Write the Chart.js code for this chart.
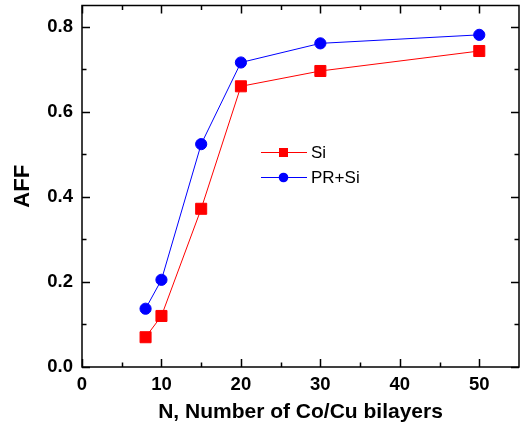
<!DOCTYPE html>
<html><head><meta charset="utf-8">
<script src="https://cdn.jsdelivr.net/npm/chart.js@4"></script>
<style>html,body{margin:0;padding:0;background:#fff}#wrap{width:531px;height:426px}</style>
</head><body><div id="wrap"><canvas id="c" width="531" height="426"></canvas></div>
<script>
const nValues = [8, 10, 15, 20, 30, 50];
const siValues = [0.070, 0.120, 0.372, 0.660, 0.696, 0.743];
const prSiValues = [0.137, 0.205, 0.524, 0.716, 0.761, 0.781];
const seriesLabels = ['Si', 'PR+Si'];
const xTicks = [0, 10, 20, 30, 40, 50];
const xMinor = [5, 15, 25, 35, 45];
const yTicks = [0.0, 0.2, 0.4, 0.6, 0.8];
const yMinor = [0.1, 0.3, 0.5, 0.7];

const FONT = 'Liberation Sans, Arial, sans-serif';

const tickPlugin = {
  id: 'tickPlugin',
  afterDraw(chart) {
    const ctx = chart.ctx, a = chart.chartArea;
    const xs = chart.scales.x, ys = chart.scales.y;
    ctx.save();
    ctx.strokeStyle = '#000';
    ctx.lineWidth = 1.5;
    ctx.strokeRect(a.left, a.top, a.right - a.left, a.bottom - a.top);
    const drawX = (v, len) => {
      const px = Math.round(xs.getPixelForValue(v)) + 0.5;
      ctx.beginPath();
      ctx.moveTo(px, a.bottom); ctx.lineTo(px, a.bottom - len);
      ctx.moveTo(px, a.top); ctx.lineTo(px, a.top + len);
      ctx.stroke();
    };
    const drawY = (v, len) => {
      const py = Math.round(ys.getPixelForValue(v)) + 0.5;
      ctx.beginPath();
      ctx.moveTo(a.left, py); ctx.lineTo(a.left + len, py);
      ctx.moveTo(a.right, py); ctx.lineTo(a.right - len, py);
      ctx.stroke();
    };
    xTicks.forEach(v => drawX(v, 8));
    xMinor.forEach(v => drawX(v, 4.5));
    yTicks.forEach(v => drawY(v, 8));
    yMinor.forEach(v => drawY(v, 4.5));

    // legend
    const ds = chart.data.datasets;
    const rows = [152.5, 177.5];
    ds.forEach((d, i) => {
      const y = rows[i];
      ctx.strokeStyle = d.borderColor;
      ctx.lineWidth = 1;
      ctx.beginPath();
      ctx.moveTo(261, y); ctx.lineTo(307, y);
      ctx.stroke();
      ctx.fillStyle = d.backgroundColor;
      if (d.pointStyle === 'rect') {
        ctx.fillRect(279, y - 4.5, 9, 9);
      } else {
        ctx.beginPath();
        ctx.arc(283.5, y, 4.8, 0, Math.PI * 2);
        ctx.fill();
      }
      ctx.fillStyle = '#000';
      ctx.font = '17px ' + FONT;
      ctx.textBaseline = 'middle';
      ctx.textAlign = 'left';
      ctx.fillText(d.label, 311, y + 1);
    });
    ctx.restore();
  }
};

new Chart(document.getElementById('c'), {
  type: 'scatter',
  data: {
    datasets: [
      {
        label: seriesLabels[0],
        data: nValues.map((x, i) => ({ x, y: siValues[i] })),
        showLine: true,
        borderColor: '#ff0000',
        backgroundColor: '#ff0000',
        borderWidth: 1,
        pointStyle: 'rect',
        pointRadius: 7.8,
        pointHoverRadius: 7.8
      },
      {
        label: seriesLabels[1],
        data: nValues.map((x, i) => ({ x, y: prSiValues[i] })),
        showLine: true,
        borderColor: '#0000ff',
        backgroundColor: '#0000ff',
        borderWidth: 1,
        pointStyle: 'circle',
        pointRadius: 5.6,
        pointHoverRadius: 5.6
      }
    ]
  },
  options: {
    responsive: false,
    animation: false,
    events: [],
    layout: { autoPadding: false, padding: { top: 5.5, right: 12, left: 0, bottom: 0 } },
    plugins: { legend: { display: false }, tooltip: { enabled: false } },
    scales: {
      x: {
        type: 'linear', min: 0, max: 55,
        afterBuildTicks: s => { s.ticks = xTicks.map(v => ({ value: v })); },
        afterFit: s => { s.height = 59; s.paddingLeft = 0; s.paddingRight = 0; },
        grid: { display: false, drawTicks: false },
        border: { display: false },
        ticks: { color: '#000', padding: 7, maxRotation: 0, font: { family: FONT, size: 18.5, weight: 'bold' } },
        title: { display: true, text: 'N, Number of Co/Cu bilayers', color: '#000', padding: { top: 2, bottom: 1 }, font: { family: FONT, size: 21, weight: 'bold' } }
      },
      y: {
        type: 'linear', min: 0, max: 0.85,
        afterBuildTicks: s => { s.ticks = yTicks.map(v => ({ value: v })); },
        afterFit: s => { s.width = 82; s.paddingTop = 0; s.paddingBottom = 0; },
        grid: { display: false, drawTicks: false },
        border: { display: false },
        ticks: { color: '#000', padding: 9, callback: v => v.toFixed(1), font: { family: FONT, size: 18.5, weight: 'bold', lineHeight: 0.3 } },
        title: { display: true, text: 'AFF', color: '#000', padding: { top: 10, bottom: 0 }, font: { family: FONT, size: 22, weight: 'bold' } }
      }
    }
  },
  plugins: [tickPlugin]
});
</script>
</body></html>
